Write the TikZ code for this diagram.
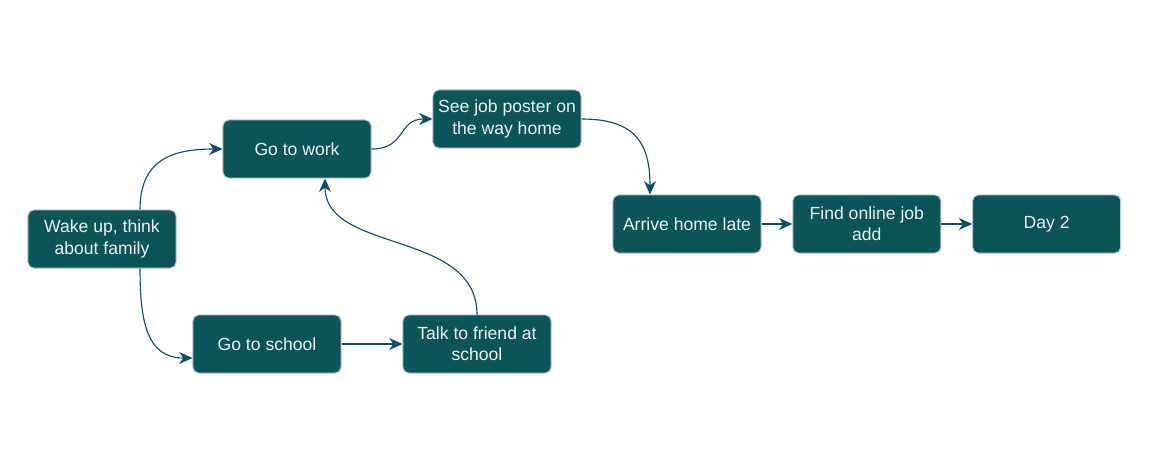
\documentclass[tikz,border=0pt]{standalone}
\usepackage{fontspec}
\setmainfont{Liberation Sans}
\definecolor{BoxTeal}{HTML}{0B5559}
\definecolor{BoxEdge}{HTML}{BAC8D3}
\definecolor{BoxText}{HTML}{EEEEEE}
\definecolor{FlowBlue}{HTML}{0B4D6A}
\usetikzlibrary{arrows.meta, positioning}
\tikzset{
  % Box styles
  eventbox/.style={rectangle, rounded corners=4pt, draw=BoxEdge, line width=0.7pt, fill=BoxTeal, text=BoxText, minimum width=3.7cm, minimum height=1.45cm, inner sep=2pt, font=\fontsize{12.5}{15}\selectfont, align=center},
  % Arrow styles
  flow/.style={-{Stealth[length=9.5pt, width=8.5pt, inset=3pt]}, line width=0.8pt, FlowBlue}
}
\begin{document}
\begin{tikzpicture}[x=0.025cm, y=-0.025cm]
  \useasboundingbox (0,0) rectangle (1162,459);

  % Morning
  \node[eventbox] (wake) at (102,239) {Wake up, think\\about family};
  \node[eventbox] (work) at (297,149) {Go to work};
  \node[eventbox] (school) at (267,344) {Go to school};
  \node[eventbox] (friend) at (477,344) {Talk to friend at\\school};

  % Evening
  \node[eventbox] (poster) at (507,119) {See job poster on\\the way home};
  \node[eventbox] (arrive) at (687,224) {Arrive home late};
  \node[eventbox, right=0.77cm of arrive] (online) {Find online job\\add};
  \node[eventbox, right=0.77cm of online] (day2) {Day 2};

  % Arrows
  \draw[flow] ([xshift=0.95cm]wake.north) .. controls +(0,-50) and +(-50,0) .. (work.west);
  \draw[flow] ([xshift=0.95cm]wake.south) .. controls +(0,55) and +(-45,0) .. ([yshift=-0.35cm]school.west);
  \draw[flow] (school) -- (friend);
  \draw[flow] (friend.north) .. controls +(0,-85) and +(0,75) .. ([xshift=0.7cm]work.south);
  \draw[flow] (work.east) .. controls +(35,0) and +(-35,0) .. (poster.west);
  \draw[flow] (poster.east) .. controls +(55,0) and +(0,-50) .. ([xshift=-0.925cm]arrive.north);
  \draw[flow] (arrive) -- (online);
  \draw[flow] (online) -- (day2);
\end{tikzpicture}
\end{document}
